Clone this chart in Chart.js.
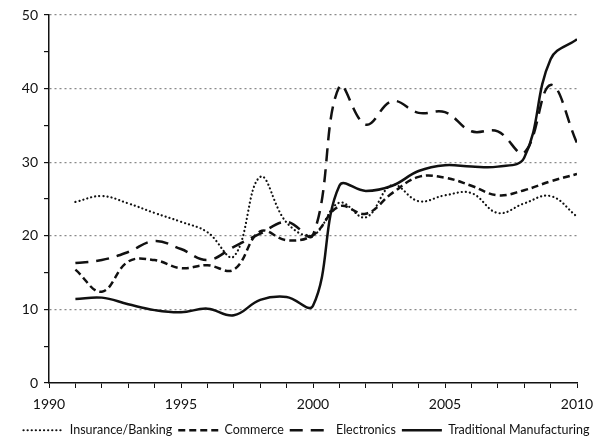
<!DOCTYPE html>
<html>
<head>
<meta charset="utf-8">
<script src="https://cdn.jsdelivr.net/npm/chart.js@4.4.0/dist/chart.umd.min.js"></script>
<style>
  html, body { margin: 0; padding: 0; background: #fff; }
  #wrap { width: 613px; height: 437px; }
</style>
</head>
<body>
<div id="wrap"><canvas id="chart-line"></canvas></div>
<script>
// values
var years = [1991, 1992, 1993, 1994, 1995, 1996, 1997, 1998, 1999, 2000,
             2001, 2002, 2003, 2004, 2005, 2006, 2007, 2008, 2009, 2010];
var insurance = [24.6, 25.4, 24.4, 23.1, 21.9, 20.5, 17.2, 28.0, 21.8, 20.1,
                 24.5, 22.5, 26.9, 24.7, 25.5, 25.8, 23.1, 24.4, 25.4, 22.6];
var commerce = [15.4, 12.4, 16.5, 16.7, 15.6, 16.0, 15.4, 20.6, 19.4, 20.1,
                24.0, 23.0, 25.8, 28.0, 27.9, 26.8, 25.5, 26.2, 27.4, 28.4];
var electronics = [16.3, 16.7, 17.8, 19.3, 18.2, 16.7, 18.5, 20.3, 21.9, 20.1,
                   40.3, 35.1, 38.3, 36.7, 36.8, 34.2, 34.2, 31.3, 40.5, 32.6];
var manufacturing = [11.4, 11.6, 10.7, 9.9, 9.6, 10.1, 9.2, 11.3, 11.7, 10.5,
                     26.8, 26.1, 26.8, 28.8, 29.6, 29.4, 29.4, 30.6, 44.0, 46.7];
var seriesNames = ["Insurance/Banking", "Commerce", "Electronics", "Traditional Manufacturing"];

function pts(arr) {
  return arr.map(function(v, i) { return {x: years[i], y: v}; });
}

var ink = "#111";

var ctx = document.getElementById("chart-line");
var myLineChart = new Chart(ctx, {
  type: 'line',
  data: {
    datasets: [{
      label: seriesNames[0],
      data: pts(insurance),
      borderColor: ink,
      borderWidth: 2.2,
      borderDash: [0.1, 4],
      borderCapStyle: 'round'
    }, {
      label: seriesNames[1],
      data: pts(commerce),
      borderColor: ink,
      borderWidth: 2.5,
      borderDash: [7, 4]
    }, {
      label: seriesNames[2],
      data: pts(electronics),
      borderColor: ink,
      borderWidth: 2.5,
      borderDash: [13, 8]
    }, {
      label: seriesNames[3],
      data: pts(manufacturing),
      borderColor: ink,
      borderWidth: 2.5
    }]
  },
  options: {
    responsive: true,
    maintainAspectRatio: false,
    animation: false,
    devicePixelRatio: 1,
    layout: { padding: { top: 15, right: 0, left: 0, bottom: 0 } },
    elements: {
      point: { radius: 0 },
      line: { tension: 0.4, fill: false }
    },
    scales: {
      x: {
        type: 'linear',
        min: 1990,
        max: 2010,
        afterFit: function(scale) { scale.height = 35; },
        ticks: {
          stepSize: 1,
          autoSkip: false,
          maxRotation: 0,
          padding: 8,
          color: ink,
          font: { family: 'Lato', size: 14 },
          callback: function(v) { return v % 5 === 0 ? String(v) : ''; }
        },
        grid: {
          drawOnChartArea: false,
          tickLength: 5,
          tickColor: ink
        },
        border: { color: ink, width: 1.5 }
      },
      y: {
        min: 0,
        max: 50,
        afterFit: function(scale) { scale.width = 49; },
        ticks: {
          stepSize: 5,
          padding: 6,
          color: ink,
          font: { family: 'Lato', size: 14 },
          callback: function(v) { return v % 10 === 0 ? String(v) : ''; }
        },
        grid: {
          color: function(c) {
            return (c.tick && c.tick.value % 10 === 0 && c.tick.value > 0) ? '#8a8a8a' : 'rgba(0,0,0,0)';
          },
          tickColor: ink,
          tickLength: 5,
          lineWidth: 1.2,
          tickBorderDash: []
        },
        // in v4 border.dash is what dashes the grid lines
        border: { color: ink, width: 1.5, dash: [2, 3] }
      },
      // empty right-hand spacer so the plot stops where the original does
      yRight: {
        position: 'right',
        min: 0,
        max: 50,
        afterFit: function(scale) { scale.width = 36; },
        ticks: { display: false },
        grid: { display: false },
        border: { display: false }
      }
    },
    plugins: {
      tooltip: { enabled: false },
      legend: {
        position: 'bottom',
        maxHeight: 19,
        labels: {
          usePointStyle: true,
          pointStyle: 'line',
          pointStyleWidth: 40,
          boxHeight: 12,
          padding: 6,
          color: ink,
          font: { family: 'Lato', size: 12.5 },
          generateLabels: function(chart) {
            var items = Chart.defaults.plugins.legend.labels.generateLabels(chart);
            items.forEach(function(it) {
              var ds = chart.data.datasets[it.datasetIndex];
              it.lineDash = ds.borderDash || [];
              it.lineCap = ds.borderCapStyle || 'butt';
              it.lineWidth = ds.borderWidth;
              it.strokeStyle = ds.borderColor;
              it.pointStyle = 'line';
            });
            return items;
          }
        }
      }
    }
  }
});
</script>
</body>
</html>
